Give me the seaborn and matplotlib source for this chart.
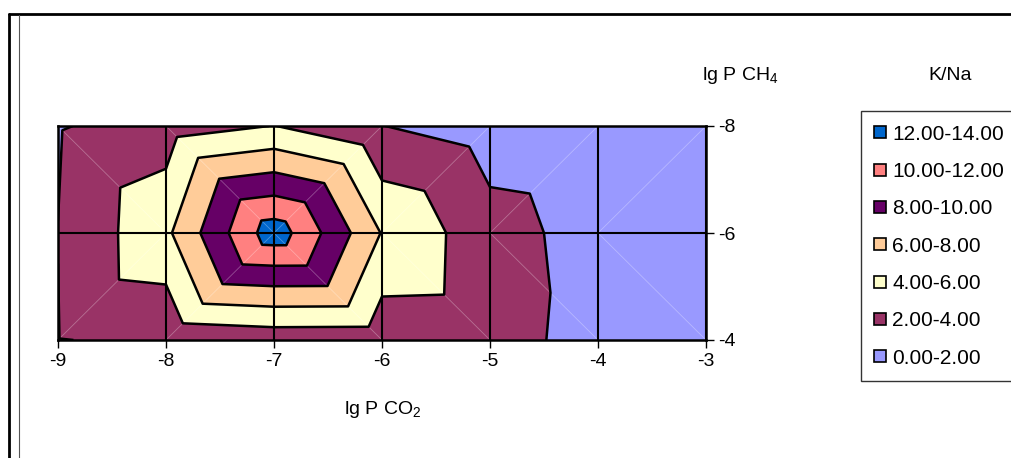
import numpy as np
import matplotlib
matplotlib.use("Agg")
from matplotlib import pyplot as plt
import matplotlib.tri as mtri
from matplotlib.lines import Line2D
import seaborn as sns

#%% data (K/Na at each grid node)
lg_pco2 = [-9, -8, -7, -6, -5, -4, -3]
lg_pch4 = [-8, -6, -4]
kna_top = [1.85, 2.95, 4.05, 2.03, 1.07, 0.80, 0.60]   # lg P CH4 = -8
kna_mid = [2.02, 5.58, 13.2, 5.90, 2.70, 1.30, 1.00]   # lg P CH4 = -6
kna_bot = [1.95, 2.30, 2.75, 2.70, 2.60, 1.45, 1.00]   # lg P CH4 = -4

levels = [0, 2, 4, 6, 8, 10, 12, 14]
level_labels = ["0.00-2.00", "2.00-4.00", "4.00-6.00", "6.00-8.00",
                "8.00-10.00", "10.00-12.00", "12.00-14.00"]
colors = ["#9999FF", "#993366", "#FFFFCC", "#FFCC99", "#660066", "#FF8080", "#0066CC"]

#%% style
sns.set_style("white")
plt.rcParams['font.family'] = ['Liberation Sans', 'DejaVu Sans']
plt.rcParams['mathtext.fontset'] = 'custom'
plt.rcParams['mathtext.rm'] = 'Liberation Sans'
plt.rcParams['axes.unicode_minus'] = False
plt.rcParams['text.color'] = 'black'
plt.rcParams['xtick.color'] = 'black'
plt.rcParams['ytick.color'] = 'black'

#%% triangulation like the Excel surface chart (diagonals meet the middle row)
nx, ny = len(lg_pco2), len(lg_pch4)
X, Y = np.meshgrid(lg_pco2, lg_pch4)
Z = np.array([kna_top, kna_mid, kna_bot])
idx = lambda i, j: j * nx + i
tris, diags = [], []
for i in range(nx - 1):
    # top cell (rows 0,1)
    if lg_pco2[i] < -7:
        tris += [[idx(i, 0), idx(i+1, 0), idx(i+1, 1)], [idx(i, 0), idx(i+1, 1), idx(i, 1)]]
        diags.append((idx(i, 0), idx(i+1, 1)))
    else:
        tris += [[idx(i, 0), idx(i+1, 0), idx(i, 1)], [idx(i+1, 0), idx(i+1, 1), idx(i, 1)]]
        diags.append((idx(i+1, 0), idx(i, 1)))
    # bottom cell (rows 1,2)
    if lg_pco2[i] < -7:
        tris += [[idx(i, 1), idx(i+1, 1), idx(i, 2)], [idx(i+1, 1), idx(i+1, 2), idx(i, 2)]]
        diags.append((idx(i, 2), idx(i+1, 1)))
    else:
        tris += [[idx(i, 1), idx(i+1, 1), idx(i+1, 2)], [idx(i, 1), idx(i+1, 2), idx(i, 2)]]
        diags.append((idx(i, 1), idx(i+1, 2)))
xf, yf, zf = X.ravel(), Y.ravel(), Z.ravel()
tri = mtri.Triangulation(xf, yf, np.array(tris))

#%% plot
fig = plt.figure(figsize=(10.11, 4.58), dpi=100)
ax = fig.add_axes([58/1011, 1-340/458, (706-58)/1011, (340-126)/458])

ax.tricontourf(tri, zf, levels=levels, colors=colors, antialiased=True)
for a, b in diags:
    ax.plot([xf[a], xf[b]], [yf[a], yf[b]], color="white", lw=0.6, alpha=0.3, zorder=2)
ax.tricontour(tri, zf, levels=levels[1:-1], colors="black", linewidths=1.8, zorder=3)

for xv in lg_pco2:
    ax.axvline(xv, color="black", lw=1.5, zorder=4)
ax.axhline(-6, color="black", lw=1.5, zorder=4)

ax.set_xlim(-9, -3)
ax.set_ylim(-4, -8)
ax.set_xticks(lg_pco2)
ax.set_yticks(lg_pch4)
ax.yaxis.tick_right()
ax.tick_params(axis="both", which="major", direction="out", length=6, width=1,
               color="black", labelcolor="black", labelsize=14, pad=3, bottom=True, right=True)
for sp in ax.spines.values():
    sp.set_color("black")
    sp.set_linewidth(1.8)
    sp.set_zorder(5)

fig.text(383/1011, 1-410/458, r"lg P CO$_\mathregular{2}$", ha="center", va="center", fontsize=14)
fig.text(740/1011, 1-75/458, r"lg P CH$_\mathregular{4}$", ha="center", va="center", fontsize=14)
fig.text(950/1011, 1-75/458, "K/Na", ha="center", va="center", fontsize=14)

handles = [Line2D([], [], ls="none", marker="s", markersize=8, markerfacecolor=c,
                  markeredgecolor="black", markeredgewidth=1.2) for c in colors]
leg = fig.legend(handles[::-1], level_labels[::-1], loc="upper left",
                 bbox_to_anchor=(861/1011, 1-111/458), fontsize=15, frameon=True,
                 fancybox=False, edgecolor="black", handlelength=0.5, handletextpad=0.35,
                 labelspacing=0.88, borderpad=0.65, borderaxespad=0)
leg.get_frame().set_linewidth(1.0)

# chart area frame
fig.add_artist(Line2D([9/1011, 9/1011], [0, 1-14/458], color="black", lw=2))
fig.add_artist(Line2D([9/1011, 1], [1-14/458, 1-14/458], color="black", lw=2))
fig.add_artist(Line2D([19/1011, 19/1011], [0, 1-15/458], color="#555555", lw=0.8))

plt.savefig("out.png", dpi=100)
